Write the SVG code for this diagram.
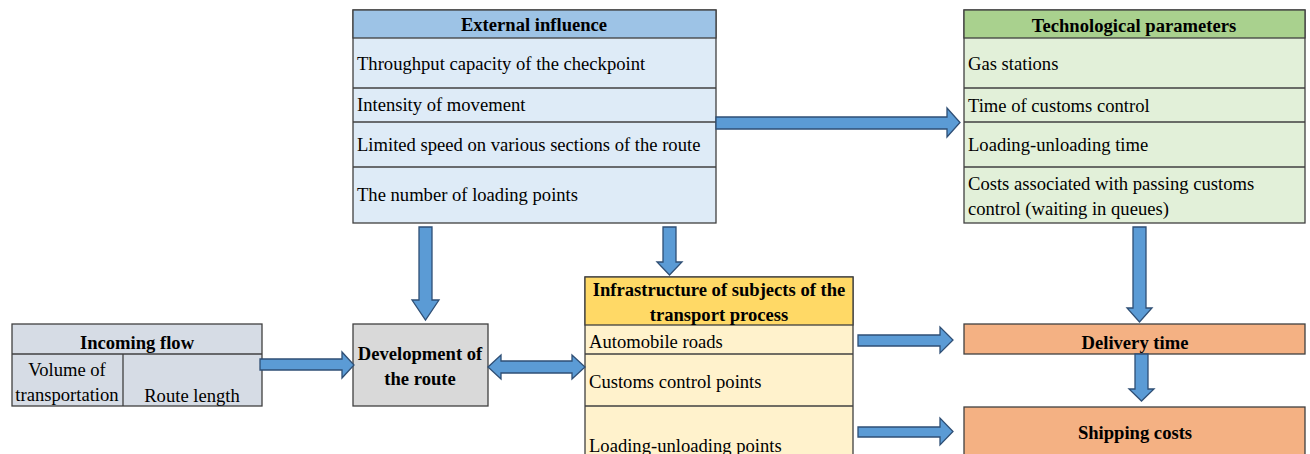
<svg xmlns="http://www.w3.org/2000/svg" width="1310" height="454" viewBox="0 0 1310 454">
<style>
.box{stroke:#404040;stroke-width:1.3}
.ln{stroke:#404040;stroke-width:1.3;fill:none}
.t{font-family:"Liberation Serif","Times New Roman",serif;font-size:18.6px;fill:#000}
.b{font-weight:bold}
.c{text-anchor:middle}
.arr{fill:#5b9bd5;stroke:#2f4f75;stroke-width:1.3;stroke-linejoin:miter}
</style>
<rect width="1310" height="454" fill="#fff"/>
<g id="external">
<rect class="box" x="353" y="10" width="363" height="213" fill="#deebf7"/>
<rect class="box" x="353" y="10" width="363" height="28" fill="#9dc3e6"/>
<line class="ln" x1="353" y1="88" x2="716" y2="88"/>
<line class="ln" x1="353" y1="122" x2="716" y2="122"/>
<line class="ln" x1="353" y1="167" x2="716" y2="167"/>
<text class="t b c" x="534" y="31">External influence</text>
<text class="t" x="357" y="70">Throughput capacity of the checkpoint</text>
<text class="t" x="357" y="111">Intensity of movement</text>
<text class="t" x="357" y="151">Limited speed on various sections of the route</text>
<text class="t" x="357" y="201">The number of loading points</text>
</g>
<g id="tech">
<rect class="box" x="964" y="10" width="341" height="213" fill="#e2f0d9"/>
<rect class="box" x="964" y="10" width="341" height="28" fill="#a9d18e"/>
<line class="ln" x1="964" y1="88" x2="1305" y2="88"/>
<line class="ln" x1="964" y1="122" x2="1305" y2="122"/>
<line class="ln" x1="964" y1="167" x2="1305" y2="167"/>
<text class="t b c" x="1134" y="32">Technological parameters</text>
<text class="t" x="968" y="70">Gas stations</text>
<text class="t" x="968" y="112">Time of customs control</text>
<text class="t" x="968" y="151">Loading-unloading time</text>
<text class="t" x="968" y="190">Costs associated with passing customs</text>
<text class="t" x="968" y="215">control (waiting in queues)</text>
</g>
<g id="incoming">
<rect class="box" x="12" y="324" width="250" height="82" fill="#d6dce5"/>
<line class="ln" x1="12" y1="354" x2="262" y2="354"/>
<line class="ln" x1="123" y1="354" x2="123" y2="406"/>
<text class="t b c" x="137" y="349">Incoming flow</text>
<text class="t c" x="67" y="376">Volume of</text>
<text class="t c" x="67" y="401">transportation</text>
<text class="t c" x="192" y="402">Route length</text>
</g>
<g id="development">
<rect class="box" x="353" y="324" width="135" height="82" fill="#d9d9d9"/>
<text class="t b c" x="420" y="360">Development of</text>
<text class="t b c" x="420" y="385">the route</text>
</g>
<g id="infrastructure">
<rect class="box" x="585" y="277" width="268" height="190" fill="#fff2cc"/>
<rect class="box" x="585" y="277" width="268" height="48" fill="#ffd966"/>
<line class="ln" x1="585" y1="354" x2="853" y2="354"/>
<line class="ln" x1="585" y1="406" x2="853" y2="406"/>
<text class="t b c" x="719" y="296">Infrastructure of subjects of the</text>
<text class="t b c" x="719" y="321">transport process</text>
<text class="t" x="589" y="348">Automobile roads</text>
<text class="t" x="589" y="388">Customs control points</text>
<text class="t" x="589" y="452">Loading-unloading points</text>
</g>
<g id="delivery">
<rect class="box" x="964" y="324" width="341" height="30" fill="#f4b183"/>
<text class="t b c" x="1135" y="349">Delivery time</text>
</g>
<g id="shipping">
<rect class="box" x="964" y="407" width="341" height="60" fill="#f4b183"/>
<text class="t b c" x="1135" y="439">Shipping costs</text>
</g>
<g id="connectors">
<polygon class="arr" points="716,117 947,117 947,108 960,122.5 947,137 947,129 716,129"/>
<polygon class="arr" points="419,227 432,227 432,300 439,300 425.5,320 412,300 419,300"/>
<polygon class="arr" points="663,227 676,227 676,262 682,262 669.5,275 657,262 663,262"/>
<polygon class="arr" points="1133,227 1146,227 1146,308 1152,308 1139.5,322 1127,308 1133,308"/>
<polygon class="arr" points="1135,354 1148,354 1148,389 1154,389 1141.5,401 1129,389 1135,389"/>
<polygon class="arr" points="260,359 342,359 342,352 354,365 342,378 342,370 260,370"/>
<polygon class="arr" points="488,367 501,355 501,361 572,361 572,355 585,367 572,379 572,373 501,373 501,379"/>
<polygon class="arr" points="858,335 940,335 940,327 953,340 940,353 940,346 858,346"/>
<polygon class="arr" points="858,427 940,427 940,418 953,431.5 940,445 940,437 858,437"/>
</g>
</svg>
